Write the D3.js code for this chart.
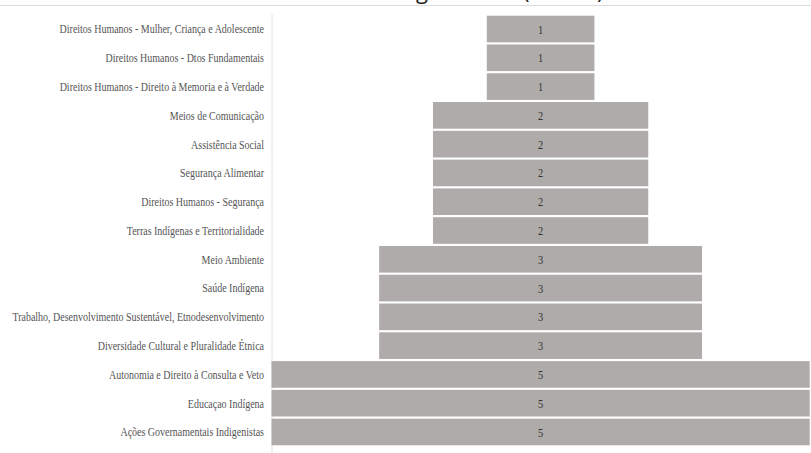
<!DOCTYPE html>
<html>
<head>
<meta charset="utf-8">
<script src="https://cdn.jsdelivr.net/npm/d3@7"></script>
<style>
  html, body { margin: 0; padding: 0; background: #fff; }
  svg { display: block; }
  .lbl { font-family: "Liberation Serif", "Times New Roman", serif; }
  .ttl { font-family: "Open Sans", "Noto Sans", sans-serif; }
</style>
</head>
<body>
<svg id="chart" width="811" height="453"></svg>
<script>
// Eixos temáticos e número de ocorrências
const categories = [
  "Direitos Humanos - Mulher, Criança e Adolescente",
  "Direitos Humanos - Dtos Fundamentais",
  "Direitos Humanos - Direito à Memoria e à Verdade",
  "Meios de Comunicação",
  "Assistência Social",
  "Segurança Alimentar",
  "Direitos Humanos - Segurança",
  "Terras Indígenas e Territorialidade",
  "Meio Ambiente",
  "Saúde Indígena",
  "Trabalho, Desenvolvimento Sustentável, Etnodesenvolvimento",
  "Diversidade Cultural e Pluralidade Étnica",
  "Autonomia e Direito à Consulta e Veto",
  "Educaçao Indígena",
  "Ações Governamentais Indigenistas"
];
const values = [1, 1, 1, 2, 2, 2, 2, 2, 3, 3, 3, 3, 5, 5, 5];
const title = "Contagem Total (Temas)";

const svg = d3.select("#chart");
const W = 811, H = 453;
const plotLeft = 271.5, plotRight = 809.7;
const plotTop = 15.7, plotBottom = 445.3;
const cx = (plotLeft + plotRight) / 2;

const y = d3.scaleBand().domain(categories).range([plotTop, plotBottom])
  .paddingInner(0.075).paddingOuter(0);
const w = d3.scaleLinear().domain([0, d3.max(values)]).range([0, plotRight - plotLeft]);

// title, scrolled mostly out of view
const t = svg.append("text")
  .attr("class", "ttl")
  .attr("y", -1)
  .attr("font-size", 22)
  .attr("fill", "#222")
  .text(title);
const paren = title.indexOf("(");
const off = t.node().getSubStringLength(0, paren);
t.attr("x", 523 - off);

// frame lines
svg.append("line")
  .attr("x1", 0).attr("x2", W).attr("y1", 5.5).attr("y2", 5.5)
  .attr("stroke", "#dcdcdc").attr("stroke-width", 1);
svg.append("line")
  .attr("x1", 272).attr("x2", 272).attr("y1", 14).attr("y2", H)
  .attr("stroke", "#e4e4e4").attr("stroke-width", 1);

// category labels
const labels = svg.append("g")
  .attr("transform", "translate(264,0) scale(0.8,1)");
labels.selectAll("text").data(categories).join("text")
  .attr("class", "lbl")
  .attr("x", 0)
  .attr("y", d => y(d) + y.bandwidth() / 2)
  .attr("dy", "0.35em")
  .attr("text-anchor", "end")
  .attr("font-size", 12.5)
  .attr("fill", "#555")
  .text(d => d);

// bars centred on the plot
const data = categories.map((c, i) => ({ c, v: values[i] }));
svg.append("g").selectAll("rect").data(data).join("rect")
  .attr("x", d => cx - w(d.v) / 2)
  .attr("y", d => y(d.c))
  .attr("width", d => w(d.v))
  .attr("height", y.bandwidth())
  .attr("fill", "#aeabaa");

// values inside bars
svg.append("g").selectAll("text").data(data).join("text")
  .attr("class", "lbl")
  .attr("transform", d => `translate(${cx},${y(d.c) + y.bandwidth() / 2}) scale(0.8,1)`)
  .attr("dy", "0.35em")
  .attr("text-anchor", "middle")
  .attr("font-size", 13)
  .attr("fill", "#333")
  .text(d => d.v);
</script>
</body>
</html>
